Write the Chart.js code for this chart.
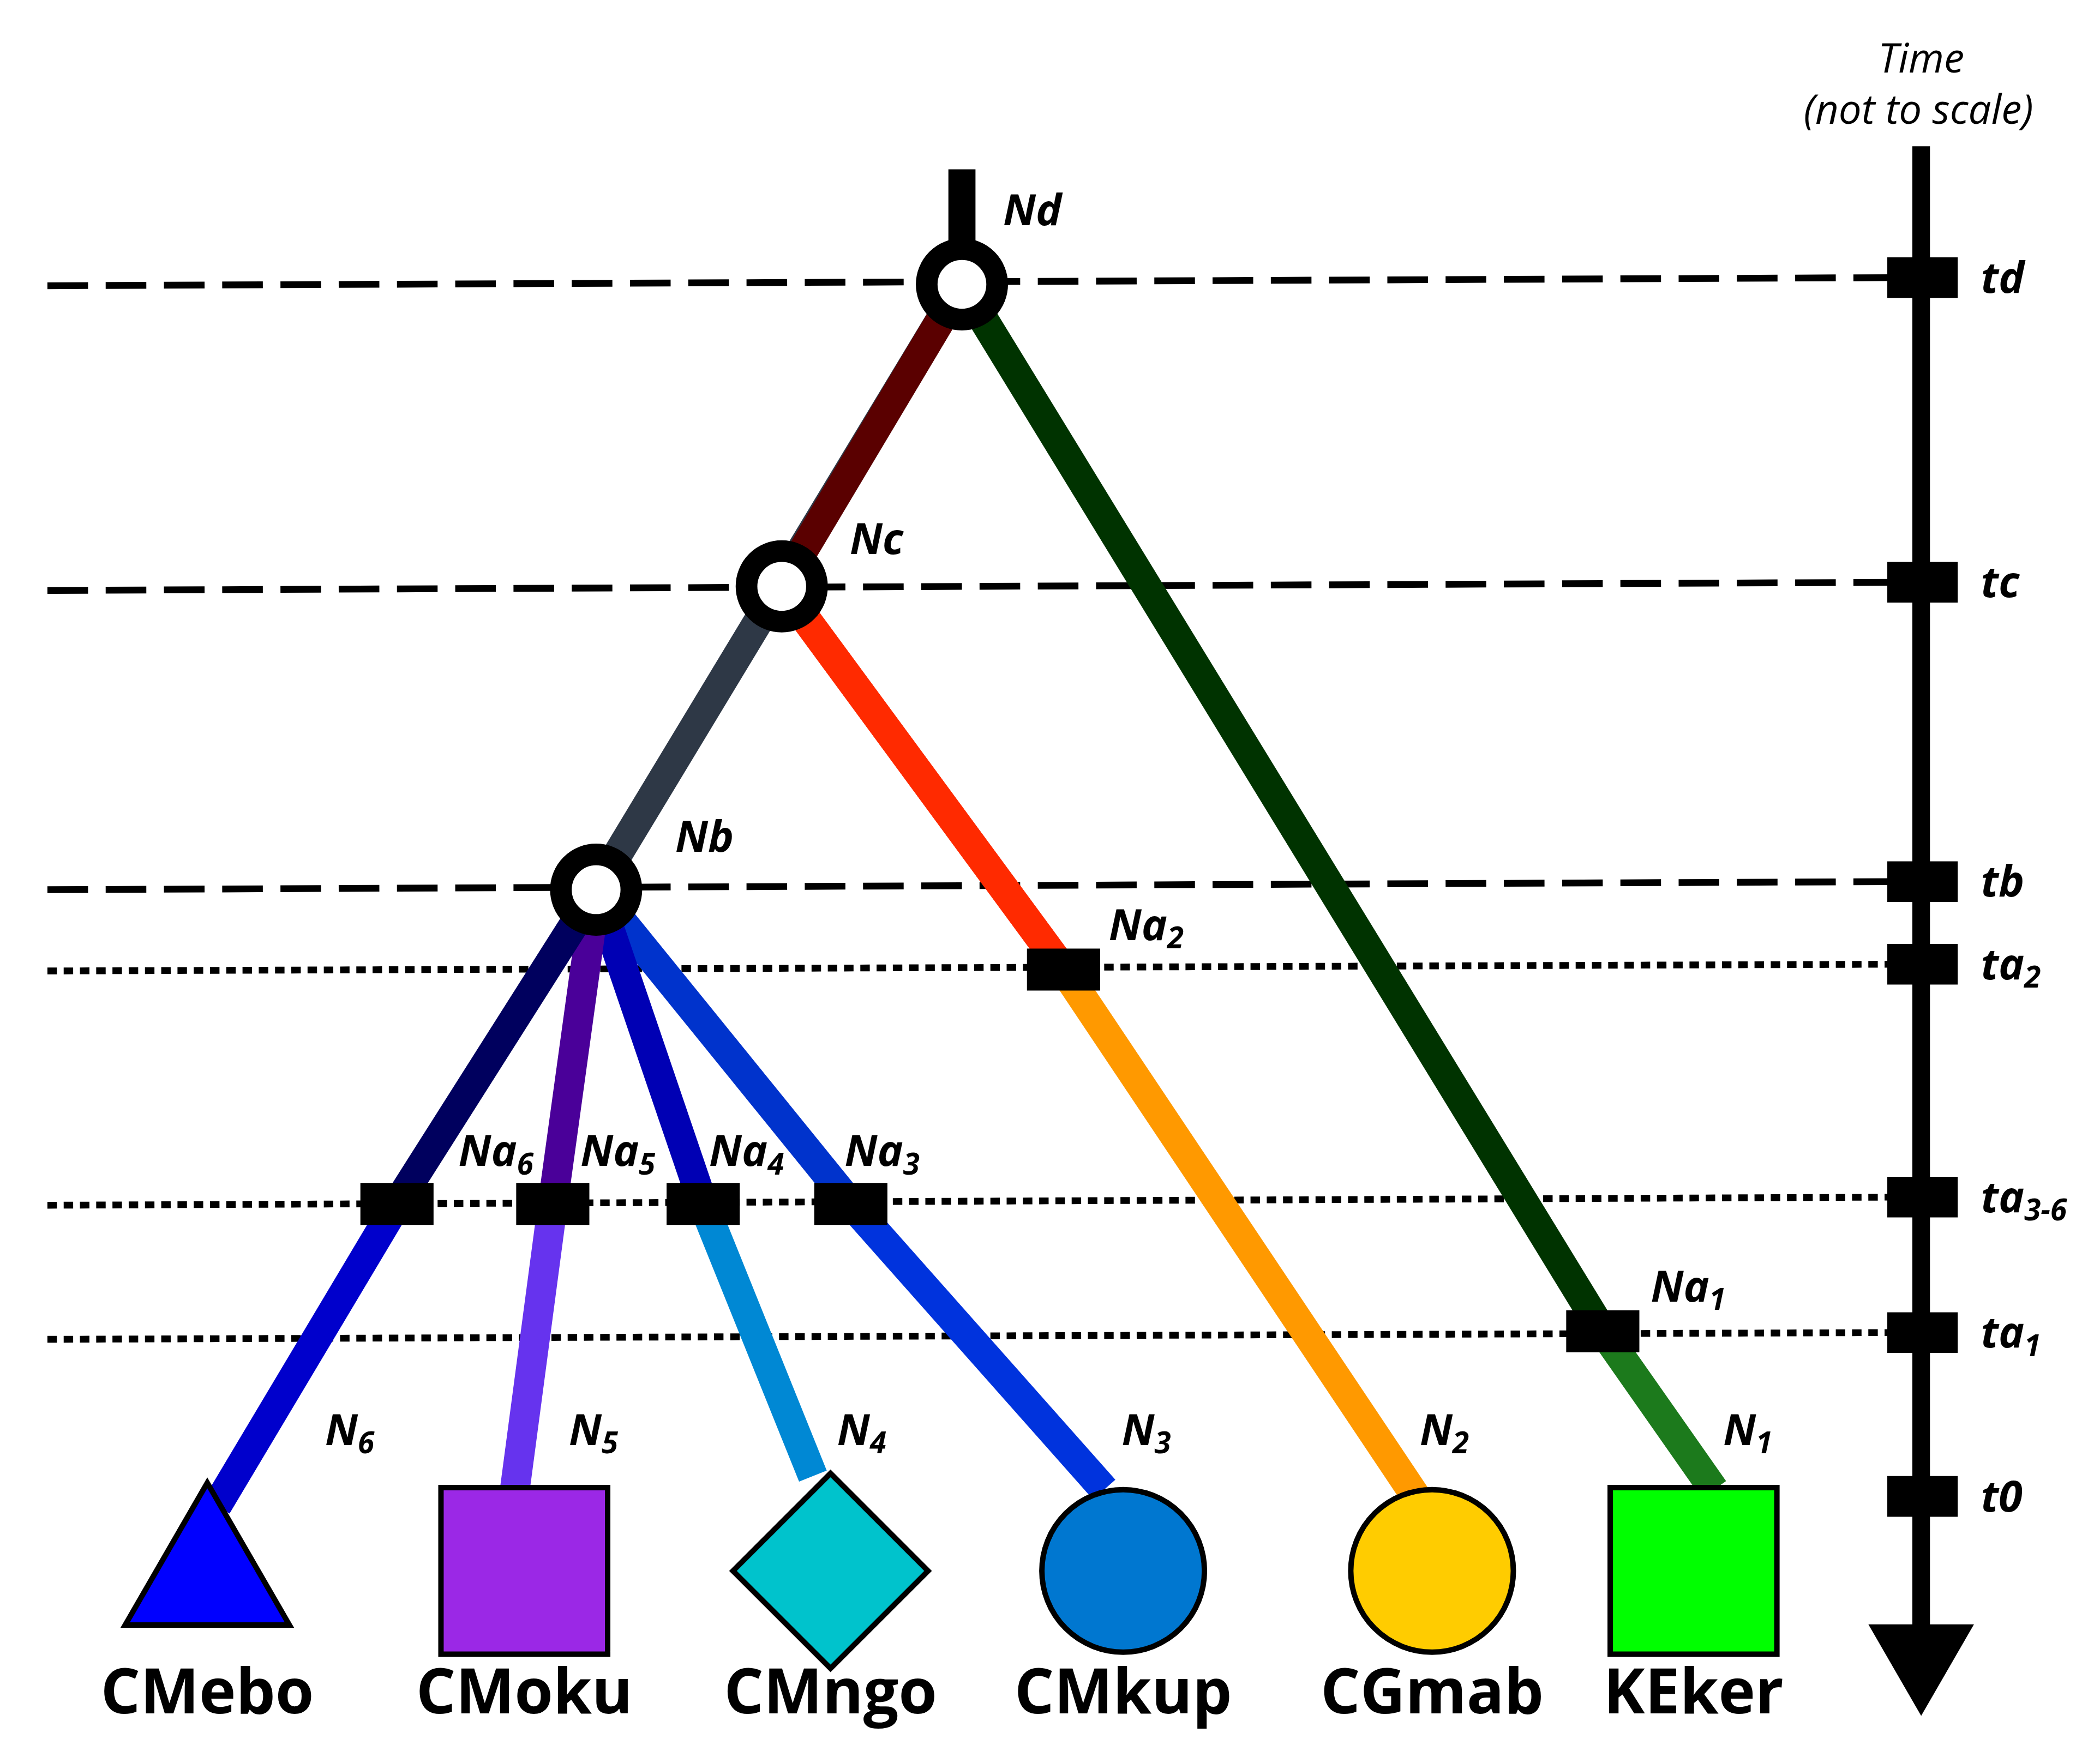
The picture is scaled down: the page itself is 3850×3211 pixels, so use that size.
<!DOCTYPE html>
<html><head><meta charset="utf-8">
<script src="https://cdn.jsdelivr.net/npm/chart.js@4/dist/chart.umd.min.js"></script>
<style>html,body{margin:0;padding:0;background:#fff}#c{display:block}</style>
</head><body>
<canvas id="c" width="3850" height="3211"></canvas>
<script>
// Diagram-space values (reference units, x 0..1550, y 0..1293 downward)
const nodeNames = ["Nd","Nc","Nb","Na2","Na6","Na5","Na4","Na3","Na1","L6","L5","L4","L3","L2","L1","top"];
const nodeX = [710,577,440,785,293,408,519,628,1183,160,380,600,815,1045,1265,710];
const nodeY = [210,433,657,716,889,889,889,889,983,1112,1100,1090,1100,1105,1100,125];
const branchFrom = ["top","Nd","Nd","Na1","Nd","Nc","Nc","Na2","Nb","Na6","Nb","Na5","Nb","Na4","Nb","Na3"];
const branchTo   = ["Nd","Nc","Na1","L1","Nb","Na2","Na2","L2","Na6","L6","Na5","L5","Na4","L4","Na3","L3"];
const branchColor= ["#000000","#5a0000","#003300","#1c7a1c","#2e3846","#ff2a00","#ff2a00","#ff9900","#00005e","#0000cc","#4a0099","#6633ee","#0000b4","#0088d4","#0033cc","#0033dd"];
const levelNames = ["td","tc","tb","ta2","ta3-6","ta1","t0"];
const levelYLeft = [211,436,657,717,890,989,null];
const levelYRight= [205,430,651,712,884,984,1105];
const levelDashed= [true,true,true,false,false,false,false];
const leafNames = ["CMebo","CMoku","CMngo","CMkup","CGmab","KEker"];
const leafX = [153,387,613,829,1057,1250];
const leafY = [1160,1160,1160,1160,1160,1160];
const leafColor = ["#0000ff","#9b28e6","#00c3cc","#0077d0","#ffcc00","#00ff00"];
const leafStyle = ["triangle","rect","rectRot","circle","circle","rect"];
const internalNodes = ["Nd","Nc","Nb"];
const boxNodes = ["Na2","Na6","Na5","Na4","Na3","Na1"];
const nodeLabels = [["Nd","",762,157],["Nc","",647,400],["Nb","",520,620],["Na","2",840,685],["Na","6",360,852],["Na","5",450,852],["Na","4",545,852],["Na","3",645,852],["Na","1",1240,952],["N","6",252,1058],["N","5",432,1058],["N","4",630,1058],["N","3",840,1058],["N","2",1060,1058],["N","1",1284,1058]];

const S = 3850/1550;
const P = n => ({x:nodeX[nodeNames.indexOf(n)], y:nodeY[nodeNames.indexOf(n)]});
const ds = [];
levelNames.forEach((n,i)=>{
  if(levelYLeft[i]!==null) ds.push({type:'line',data:[{x:35,y:levelYLeft[i]},{x:1400,y:levelYRight[i]}],borderColor:'#000',borderWidth:5*S,
    borderDash: levelDashed[i]?[30*S,13*S]:[7*S,5*S],pointRadius:0,order:10});
  ds.push({type:'line',data:[{x:1393,y:levelYRight[i]},{x:1445,y:levelYRight[i]}],borderColor:'#000',borderWidth:30*S,pointRadius:0,order:1});
});
ds.push({type:'line',data:[{x:1418,y:108},{x:1418,y:1200}],borderColor:'#000',borderWidth:13*S,pointRadius:0,order:2});
ds.push({type:'scatter',data:[{x:1418,y:1222}],pointStyle:'triangle',rotation:180,pointRadius:45*S,backgroundColor:'#000',borderWidth:0,order:2});
branchFrom.forEach((f,i)=>{
  ds.push({type:'line',data:[P(f),P(branchTo[i])],borderColor:branchColor[i],borderWidth:(i===0?20:22)*S,borderCapStyle:'butt',pointRadius:0,order:5});
});
boxNodes.forEach(n=>{const p=P(n);
  ds.push({type:'line',data:[{x:p.x-27,y:p.y},{x:p.x+27,y:p.y}],borderColor:'#000',borderWidth:31*S,pointRadius:0,order:1});});
ds.push({type:'scatter',data:internalNodes.map(P),pointRadius:26*S,backgroundColor:'#fff',borderColor:'#000',borderWidth:16*S,order:0});
leafNames.forEach((n,i)=>{
  const r = {triangle:70,rect:87,rectRot:72,circle:60}[leafStyle[i]];
  ds.push({type:'scatter',data:[{x:leafX[i],y:leafStyle[i]==='triangle'?1165:leafY[i]}],pointStyle:leafStyle[i],pointRadius:r*S,
    backgroundColor:leafColor[i],borderColor:'#000',borderWidth:4*S,order:0});
});
ds.forEach(d=>{d.clip=false;});

const textPlugin={id:'txt',afterDatasetsDraw(c){
  const g=c.ctx, X=c.scales.x, Y=c.scales.y;
  g.save(); g.fillStyle='#000'; g.textBaseline='middle';
  const fam='"Open Sans","DejaVu Sans",sans-serif';
  nodeLabels.forEach(([t,sub,x,y])=>{
    g.textAlign='left'; g.font=`italic bold ${32*S}px ${fam}`;
    const px=X.getPixelForValue(x)-g.measureText(t).width/2, py=Y.getPixelForValue(y);
    g.fillText(t,px,py);
    if(sub){const w=g.measureText(t).width; g.font=`italic bold ${22*S}px ${fam}`; g.fillText(sub,px+w,py+9*S);}
  });
  levelNames.forEach((n,i)=>{
    let base=n, sub='';
    if(n.startsWith('ta')){base='ta';sub=n.slice(2);}
    g.textAlign='left'; g.font=`italic bold ${32*S}px ${fam}`;
    const px=X.getPixelForValue(1462), py=Y.getPixelForValue(levelYRight[i]+2);
    g.fillText(base,px,py);
    if(sub){const w=g.measureText(base).width; g.font=`italic bold ${22*S}px ${fam}`; g.fillText(sub,px+w,py+9*S);}
  });
  g.textAlign='center'; g.font=`italic ${30*S}px ${fam}`;
  g.fillText('Time',X.getPixelForValue(1418),Y.getPixelForValue(45));
  g.fillText('(not to scale)',X.getPixelForValue(1416),Y.getPixelForValue(83));
  g.font=`bold ${46*S}px ${fam}`;
  leafNames.forEach((n,i)=>g.fillText(n,X.getPixelForValue(leafX[i]),Y.getPixelForValue(1252)));
  // white centre dots of the internal nodes
  internalNodes.forEach(n=>{const p=P(n); g.fillStyle='#fff'; g.beginPath();
    g.arc(X.getPixelForValue(p.x),Y.getPixelForValue(p.y),6*S,0,Math.PI*2); g.fill();});
  g.restore();
}};

new Chart(document.getElementById('c'),{
  data:{datasets:ds},
  options:{responsive:false,animation:false,devicePixelRatio:1,layout:{padding:0,autoPadding:false},
    plugins:{legend:{display:false},tooltip:{enabled:false}},
    scales:{x:{type:'linear',min:0,max:1550,display:false},y:{type:'linear',min:0,max:1293,reverse:true,display:false}}},
  plugins:[textPlugin]
});
</script>
</body></html>
